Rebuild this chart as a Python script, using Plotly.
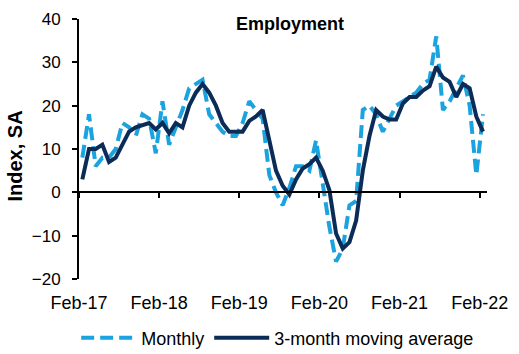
import plotly.graph_objects as go

# Months Feb-17 .. Feb-22
months = [f"{m}-{y}" for y in range(17, 23) for m in
          ["Jan", "Feb", "Mar", "Apr", "May", "Jun", "Jul", "Aug", "Sep", "Oct", "Nov", "Dec"]]
months = months[1:62]

monthly = [8, 18, 6, 8, 8, 10, 16, 15, 13, 18, 17,
           9, 21, 11, 15, 19, 24, 25, 26, 18, 16,
           14, 13, 13, 16, 21, 19, 17, 4, 0, -3,
           1, 6, 6, 5, 12, 2, -8, -16, -13, -3,
           -2, 19, 20, 18, 14, 17, 20, 21, 22, 23,
           25, 26, 36, 19, 21, 24, 27, 20, 4, 18]

ma_3m = [3, 10, 10, 11, 7, 8, 11, 14, 15, 15.5, 16,
         14.5, 16, 13.6, 16, 15, 20, 23, 25, 23, 20,
         16, 14, 14, 14, 16.5, 17.5, 19, 12, 5, 1.5,
         -0.5, 3, 5.5, 6.5, 8, 5, 0.5, -9.5, -13, -11.5,
         -6.5, 5, 13, 19, 17.5, 16.8, 16.8, 20.5, 22, 22,
         23.5, 24.5, 29, 26.5, 25.5, 22, 25, 24, 17.5, 14]

tick_labels = ["Feb-17", "Feb-18", "Feb-19", "Feb-20", "Feb-21", "Feb-22"]

x_idx = list(range(len(months)))
tick_pos = [months.index(t) - 0.5 for t in tick_labels]
x_range = [-0.5, 60.6]
y_range = [-20, 40]

FONT = "Liberation Sans, Arial, sans-serif"
LIGHT = "#1BA3DF"
NAVY = "#0B2C57"

fig = go.Figure()
fig.add_trace(go.Scatter(
    x=x_idx, y=monthly, name="Monthly", mode="lines",
    line=dict(color=LIGHT, width=4, dash="13px,6px"),
    xaxis="x", yaxis="y"))
fig.add_trace(go.Scatter(
    x=x_idx, y=ma_3m, name="3-month moving average", mode="lines",
    line=dict(color=NAVY, width=4),
    xaxis="x2", yaxis="y"))

fig.update_layout(
    width=519, height=354,
    margin=dict(l=79, r=32, t=19, b=75, autoexpand=False),
    paper_bgcolor="white", plot_bgcolor="white",
    font=dict(family=FONT, color="black", size=17),
    showlegend=True,
    legend=dict(orientation="h", xref="container", yref="container",
                x=0.535, xanchor="center", y=0.045, yanchor="middle",
                font=dict(size=18, family=FONT), itemwidth=55, bgcolor="rgba(0,0,0,0)"),
    title=dict(text="<b>Employment</b>", x=0.559, xanchor="center", y=0.932, yanchor="middle",
               font=dict(size=18, family=FONT, color="black")),
    xaxis=dict(range=x_range, tickmode="array", tickvals=tick_pos, ticktext=tick_labels,
               showline=False, showgrid=False, zeroline=False, ticks="",
               tickfont=dict(size=18), ticklabelstandoff=11),
    xaxis2=dict(range=x_range, overlaying="x", anchor="free", position=(0 - y_range[0]) / (y_range[1] - y_range[0]),
                side="bottom", tickmode="array", tickvals=tick_pos, showticklabels=False,
                showline=True, linecolor="black", linewidth=2, ticks="outside", ticklen=5,
                tickwidth=1.5, tickcolor="black", showgrid=False, zeroline=False),
    yaxis=dict(range=y_range, tickmode="array", tickvals=[-20, -10, 0, 10, 20, 30, 40],
               showline=True, linecolor="black", linewidth=2, ticks="outside", ticklen=5,
               tickwidth=1.5, tickcolor="black", showgrid=False, zeroline=False,
               tickfont=dict(size=17), ticklabelstandoff=8),
    annotations=[dict(text="<b>Index, SA</b>", xref="paper", yref="paper",
                      x=-0.158, y=0.473, xanchor="center", yanchor="middle",
                      textangle=-90, showarrow=False, font=dict(size=20, family=FONT))],
)

fig.write_html("out.html")
